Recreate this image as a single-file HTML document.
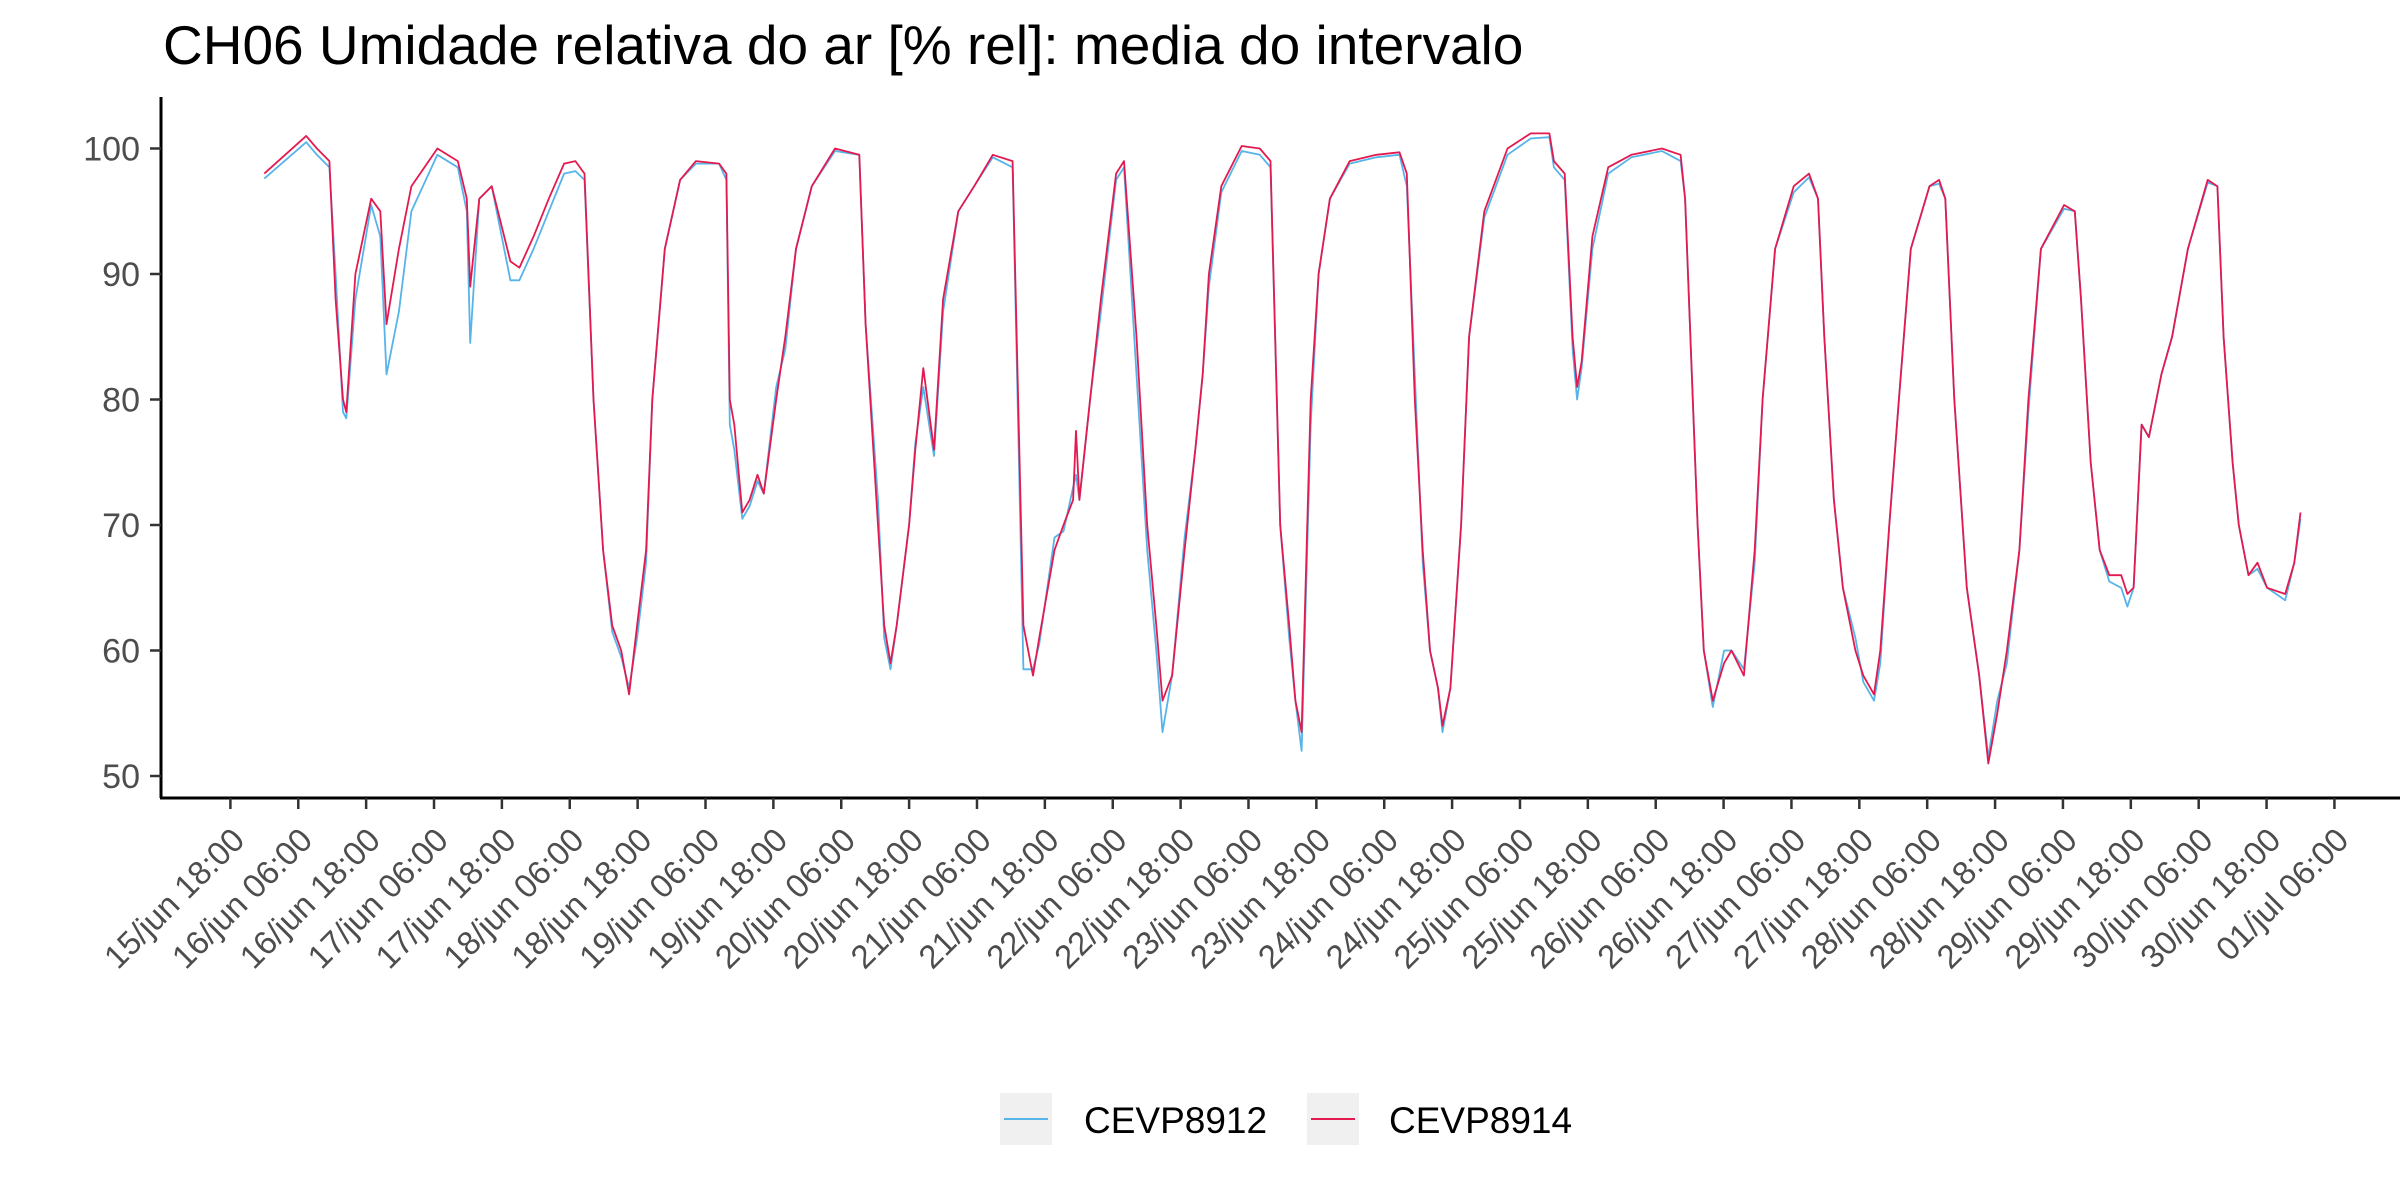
<!DOCTYPE html>
<html><head><meta charset="utf-8"><style>
body{margin:0;background:#fff;}
svg{display:block;font-family:"Liberation Sans",sans-serif;}
</style></head><body>
<svg id="chart" width="2400" height="1200" viewBox="0 0 2400 1200">
<text x="163" y="64" font-size="55" fill="#000">CH06 Umidade relativa do ar [% rel]: media do intervalo</text>
<g id="series"></g>
<g id="axes"></g>
<g>
<rect x="1000" y="1093" width="52" height="52" fill="#f0f0f0"/>
<line x1="1004" y1="1119" x2="1048" y2="1119" stroke="#56b4e9" stroke-width="2"/>
<text x="1084" y="1133" font-size="37" fill="#000">CEVP8912</text>
<rect x="1307" y="1093" width="52" height="52" fill="#f0f0f0"/>
<line x1="1311" y1="1119" x2="1355" y2="1119" stroke="#e31a4f" stroke-width="2"/>
<text x="1389" y="1133" font-size="37" fill="#000">CEVP8914</text>
</g>
</svg>
<script>
// hours since 16/jun 00:00
const hours = [0,7.4,9.3,11.5,12.6,13.9,14.5,16.1,18.9,20.5,21.6,23.8,26,30.6,34.2,35.8,36.4,38,40.2,43.5,45.1,47.6,50.3,53,55,56.6,58.2,59.9,61.5,63.1,64.5,65.9,67.5,68.6,70.8,73.5,76.3,80.4,81.7,82.3,83.1,84.5,85.8,87.2,88.3,90.5,92.1,94,96.8,100.9,105.2,106.3,108.5,109.6,110.7,111.8,114,115.1,116.5,118.4,120,122.7,125.5,128.8,132.3,134.2,135.9,137,139.7,141.3,143,143.5,144.1,146,147.9,150.6,152,154.2,156.1,157.7,158.8,160.5,162.7,164.6,165.9,167,169.2,172.8,176,177.9,179.6,181.2,182.3,183.4,185,186.4,188.4,191.9,196.6,200.7,202,203.4,204.8,206.1,207.5,208.3,209.7,211.6,213,215.7,219.8,223.9,227.2,228,229.9,231.3,232.1,232.9,234.8,237.6,241.7,247.1,250.4,251.2,253.4,254.5,256.1,258.1,259.4,261.6,263.5,264.9,267.1,270.4,273.1,274.7,275.8,277.5,279.1,281.3,282.7,284.6,285.7,287.3,289,291.1,294.4,296.1,297.2,298.8,301,303.2,304.8,306.4,308.1,310.3,311.9,314.1,318.2,320.1,321.2,322.9,324.5,326.2,328.3,329.4,330.5,331.9,333.2,335.4,337.3,340.1,343.6,345.3,346.4,348,349.1,350.8,352.4,354.1,357.3,358.9,360];
const cevp8914 = [98,101,100,99,88,80,79,90,96,95,86,92,97,100,99,96,89,96,97,91,90.5,93,96,98.8,99,98,80,68,62,60,56.5,62,68,80,92,97.5,99,98.8,98,80,78,71,72,74,72.5,80,85,92,97,100,99.5,86,70,62,59,62,70,76,82.5,76,88,95,97,99.5,99,62,58,61,68,70,72,77.5,72,80,88,98,99,85,70,62,56,58,68,76,82,90,97,100.2,100,99,70,62,56,53.5,80,90,96,99,99.5,99.7,98,80,68,60,57,54,57,70,85,95,100,101.2,101.2,99,98,85,81,83,93,98.5,99.5,100,99.5,96,70,60,56,59,60,58,68,80,92,97,98,96,85,72,65,60,58,56.5,60,70,80,92,97,97.5,96,80,65,58,51,55,60,68,80,92,95.5,95,88,75,68,66,66,64.5,65,78,77,82,85,92,97.5,97,85,75,70,66,67,65,64.5,67,71];
const cevp8912 = [97.6,100.5,99.5,98.5,90,79,78.5,88,95.5,93,82,87,95,99.5,98.5,95,84.5,96,97,89.5,89.5,92,95,98,98.2,97.5,80,68,61.5,59.5,57,61,67,80,92,97.5,98.8,98.8,97.5,78,76,70.5,71.5,73.5,72.5,81,84,92,97,99.8,99.5,86,72,61,58.5,62,70,76.5,81,75.5,87,95,97,99.3,98.5,58.5,58.5,60.5,69,69.5,73,74,72,80,87,97.5,98.5,82,68,60,53.5,58,69,76,82,89,96.5,99.8,99.5,98.5,70,61,56,52,78,90,96,98.8,99.3,99.5,97,82,67,60,57,53.5,57,70,85,94.5,99.5,100.8,100.9,98.5,97.5,84,80,82.5,92,98,99.3,99.8,99,96,70,60,55.5,60,60,58.5,67,80,92,96.5,97.7,96,85,72,65,61,57.5,56,59,70,80,92,97,97.2,96,80,65,58,51.5,56,59,68,79,92,95.2,95,88,75,68,65.5,65,63.5,65,78,77,82,85,92,97.3,97,85,75,70,66,66.5,65,64,67,70.5];
const yTicks = [50,60,70,80,90,100];
const xTickLabels = ["15/jun 18:00","16/jun 06:00","16/jun 18:00","17/jun 06:00","17/jun 18:00","18/jun 06:00","18/jun 18:00","19/jun 06:00","19/jun 18:00","20/jun 06:00","20/jun 18:00","21/jun 06:00","21/jun 18:00","22/jun 06:00","22/jun 18:00","23/jun 06:00","23/jun 18:00","24/jun 06:00","24/jun 18:00","25/jun 06:00","25/jun 18:00","26/jun 06:00","26/jun 18:00","27/jun 06:00","27/jun 18:00","28/jun 06:00","28/jun 18:00","29/jun 06:00","29/jun 18:00","30/jun 06:00","30/jun 18:00","01/jul 06:00"];
const xTickHours = [-6,6,18,30,42,54,66,78,90,102,114,126,138,150,162,174,186,198,210,222,234,246,258,270,282,294,306,318,330,342,354,366];

const NS = "http://www.w3.org/2000/svg";
function xs(h){return 230.4 + (h+6)*5.656;}
function ys(v){return 148.5 + (100-v)*12.55;}
function mk(tag, attrs, parent){const e=document.createElementNS(NS,tag);for(const k in attrs)e.setAttribute(k,attrs[k]);parent.appendChild(e);return e;}

const axes=document.getElementById('axes');
const series=document.getElementById('series');

function drawSeries(vals,color,name){
  let d="";
  for(let i=0;i<hours.length;i++){d+=(i?"L":"M")+xs(hours[i]).toFixed(1)+","+ys(vals[i]).toFixed(1);}
  const p=mk('path',{d:d,fill:'none',stroke:color,'stroke-width':1.8,'stroke-linejoin':'round'},series);
  
  
}
drawSeries(cevp8912,'#56b4e9','series-cevp8912');
drawSeries(cevp8914,'#e31a4f','series-cevp8914');

const yl=mk('line',{x1:161,y1:97,x2:161,y2:798,stroke:'#000','stroke-width':3},axes);


const xl=mk('line',{x1:160,y1:798,x2:2400,y2:798,stroke:'#000','stroke-width':3},axes);



yTicks.forEach(v=>{
  const y=ys(v);
  const t=mk('line',{x1:150,y1:y,x2:161,y2:y,stroke:'#333','stroke-width':2.5},axes);
  
  
  const l=mk('text',{x:140,y:y+12,'font-size':34,fill:'#4d4d4d','text-anchor':'end'},axes);
  l.textContent=v;
  
  
});
xTickHours.forEach((h,i)=>{
  const x=xs(h);
  const t=mk('line',{x1:x,y1:798,x2:x,y2:809,stroke:'#333','stroke-width':2.5},axes);
  
  
  const ax=x+16, ay=842;
  const l=mk('text',{x:ax,y:ay,'font-size':33,fill:'#4d4d4d','text-anchor':'end',transform:'rotate(-45 '+ax+' '+ay+')'},axes);
  l.textContent=xTickLabels[i];
  
  
});
</script>
</body></html>
